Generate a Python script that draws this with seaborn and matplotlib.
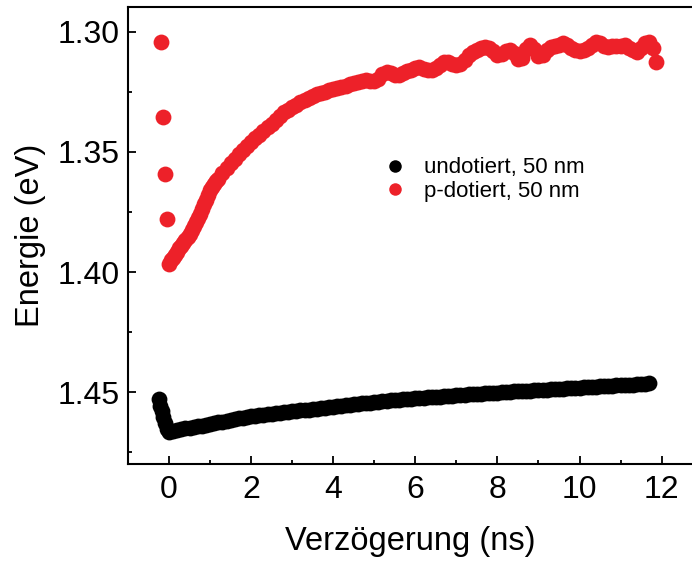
import matplotlib
matplotlib.use("Agg")
import matplotlib.pyplot as plt
from matplotlib.ticker import MultipleLocator, FormatStrFormatter
import seaborn as sns
import pandas as pd

# Delay grid (ns) shared by both series after time zero
delay_grid = [
    0.0, 0.1, 0.2, 0.3, 0.4, 0.5, 0.6, 0.7, 0.8, 0.9,
    1.0, 1.1, 1.2, 1.3, 1.4, 1.5, 1.6, 1.7, 1.8, 1.9,
    2.0, 2.1, 2.2, 2.3, 2.4, 2.5, 2.6, 2.7, 2.8, 2.9,
    3.0, 3.1, 3.2, 3.3, 3.4, 3.5, 3.6, 3.7, 3.8, 3.9,
    4.0, 4.1, 4.2, 4.3, 4.4, 4.5, 4.6, 4.7, 4.8, 4.9,
    5.0, 5.1, 5.2, 5.3, 5.4, 5.5, 5.6, 5.7, 5.8, 5.9,
    6.0, 6.1, 6.2, 6.3, 6.4, 6.5, 6.6, 6.7, 6.8, 6.9,
    7.0, 7.1, 7.2, 7.3, 7.4, 7.5, 7.6, 7.7, 7.8, 7.9,
    8.0, 8.1, 8.2, 8.3, 8.4, 8.5, 8.6, 8.7, 8.8, 8.9,
    9.0, 9.1, 9.2, 9.3, 9.4, 9.5, 9.6, 9.7, 9.8, 9.9,
    10.0, 10.1, 10.2, 10.3, 10.4, 10.5, 10.6, 10.7, 10.8, 10.9,
    11.0, 11.1, 11.2, 11.3, 11.4, 11.5, 11.6, 11.7,
]

# undoped sample, 50 nm
undoped_pre_delay = [-0.24, -0.21, -0.18, -0.14, -0.10, -0.05]
undoped_pre_energy = [1.4529, 1.4556, 1.4580, 1.4605, 1.4629, 1.4652]
undoped_energy = [
    1.4665, 1.4661, 1.4657, 1.4653, 1.4650, 1.4647, 1.4644, 1.4641, 1.4639, 1.4636,
    1.4632, 1.4629, 1.4626, 1.4622, 1.4619, 1.4616, 1.4613, 1.4609, 1.4606, 1.4603,
    1.4600, 1.4598, 1.4596, 1.4594, 1.4592, 1.4590, 1.4588, 1.4586, 1.4584, 1.4582,
    1.4580, 1.4578, 1.4576, 1.4574, 1.4572, 1.4570, 1.4568, 1.4566, 1.4564, 1.4562,
    1.4561, 1.4559, 1.4557, 1.4555, 1.4553, 1.4551, 1.4549, 1.4547, 1.4545, 1.4543,
    1.4541, 1.4539, 1.4537, 1.4536, 1.4534, 1.4533, 1.4531, 1.4530, 1.4528, 1.4527,
    1.4525, 1.4524, 1.4523, 1.4521, 1.4520, 1.4519, 1.4518, 1.4516, 1.4515, 1.4514,
    1.4513, 1.4512, 1.4511, 1.4509, 1.4508, 1.4507, 1.4506, 1.4505, 1.4504, 1.4503,
    1.4502, 1.4500, 1.4499, 1.4498, 1.4497, 1.4496, 1.4495, 1.4494, 1.4493, 1.4492,
    1.4491, 1.4490, 1.4489, 1.4488, 1.4487, 1.4486, 1.4485, 1.4484, 1.4483, 1.4482,
    1.4481, 1.4480, 1.4479, 1.4478, 1.4477, 1.4476, 1.4475, 1.4474, 1.4473, 1.4472,
    1.4471, 1.4470, 1.4469, 1.4468, 1.4467, 1.4466, 1.4465, 1.4463,
]

# p-doped sample, 50 nm
pdoped_pre_delay = [-0.19, -0.15, -0.09, -0.04]
pdoped_pre_energy = [1.3044, 1.3355, 1.3593, 1.3780]
# finer sampling during the fast initial shift
pdoped_early_delay = [
    0.00, 0.05, 0.10, 0.15, 0.20, 0.25, 0.30, 0.35, 0.40, 0.45, 0.50, 0.55,
    0.60, 0.65, 0.70, 0.75, 0.80, 0.85, 0.90, 0.95, 1.00, 1.05, 1.10, 1.15,
]
pdoped_early_energy = [
    1.3965, 1.3952, 1.3940, 1.3928, 1.3915, 1.3902, 1.3890, 1.3879, 1.3868, 1.3856,
    1.3843, 1.3827, 1.3810, 1.3793, 1.3775, 1.3757, 1.3738, 1.3719, 1.3700, 1.3680,
    1.3660, 1.3647, 1.3635, 1.3623,
]
# from 1.2 ns on the p-doped series follows the shared delay grid
pdoped_energy = [
    1.3612, 1.3590, 1.3568, 1.3548, 1.3530, 1.3510, 1.3493, 1.3476,
    1.3460, 1.3444, 1.3428, 1.3413, 1.3398, 1.3383, 1.3368, 1.3352, 1.3336, 1.3324,
    1.3314, 1.3305, 1.3292, 1.3283, 1.3276, 1.3268, 1.3260, 1.3254, 1.3249, 1.3244,
    1.3239, 1.3235, 1.3230, 1.3225, 1.3219, 1.3214, 1.3210, 1.3206, 1.3201, 1.3204,
    1.3207, 1.3195, 1.3178, 1.3167, 1.3171, 1.3179, 1.3180, 1.3170, 1.3162, 1.3160,
    1.3150, 1.3148, 1.3155, 1.3158, 1.3159, 1.3150, 1.3138, 1.3127, 1.3126, 1.3134,
    1.3140, 1.3136, 1.3118, 1.3098, 1.3084, 1.3078, 1.3068, 1.3062, 1.3068, 1.3082,
    1.3095, 1.3092, 1.3082, 1.3076, 1.3090, 1.3113, 1.3108, 1.3072, 1.3055, 1.3070,
    1.3100, 1.3095, 1.3078, 1.3064, 1.3060, 1.3056, 1.3049, 1.3055, 1.3068, 1.3078,
    1.3082, 1.3075, 1.3066, 1.3055, 1.3044, 1.3046, 1.3058, 1.3062, 1.3060, 1.3058,
    1.3060, 1.3055, 1.3066, 1.3076, 1.3083, 1.3068, 1.3048, 1.3044,
]
pdoped_tail_delay = [11.8, 11.86]
pdoped_tail_energy = [1.3068, 1.3125]

series_labels = ["undotiert, 50 nm", "p-dotiert, 50 nm"]
series_colors = ["#000000", "#ED2129"]

x_ticks = [0, 2, 4, 6, 8, 10, 12]
y_ticks = [1.30, 1.35, 1.40, 1.45]

undoped = pd.DataFrame({
    "delay": undoped_pre_delay + delay_grid,
    "energy": undoped_pre_energy + undoped_energy,
})
pdoped = pd.DataFrame({
    "delay": pdoped_pre_delay + pdoped_early_delay + delay_grid[12:] + pdoped_tail_delay,
    "energy": pdoped_pre_energy + pdoped_early_energy + pdoped_energy + pdoped_tail_energy,
})

sns.set_style("ticks")
plt.rcParams["font.family"] = ["Liberation Sans", "DejaVu Sans"]
plt.rcParams["text.color"] = "black"
plt.rcParams["axes.labelcolor"] = "black"
plt.rcParams["xtick.color"] = "black"
plt.rcParams["ytick.color"] = "black"

fig = plt.figure(figsize=(6.92, 5.63), dpi=100)
ax = fig.add_axes([128 / 692, 1 - 464.3 / 563, (692 - 128) / 692, (464.3 - 6.7) / 563])

for df, lab, col in zip([undoped, pdoped], series_labels, series_colors):
    sns.scatterplot(data=df, x="delay", y="energy", color=col, s=130,
                    linewidth=0, label=lab, ax=ax, legend=False)

ax.set_xlim(-1.0, 12.74)
ax.set_ylim(1.48, 1.2896)

ax.set_xticks(x_ticks)
ax.set_yticks(y_ticks)
ax.xaxis.set_minor_locator(MultipleLocator(1))
ax.yaxis.set_minor_locator(MultipleLocator(0.025))
ax.yaxis.set_major_formatter(FormatStrFormatter("%.2f"))

ax.tick_params(which="major", direction="in", length=6, width=1.3,
               labelsize=23, colors="black")
ax.tick_params(which="minor", direction="in", length=3, width=1.3,
               colors="black")
ax.tick_params(axis="x", which="major", pad=8)
ax.tick_params(axis="y", which="major", pad=6)

for side in ["left", "bottom", "top"]:
    ax.spines[side].set_linewidth(1.5)
    ax.spines[side].set_color("black")
ax.spines["right"].set_visible(False)

ax.set_xlabel("Verzögerung (ns)", fontsize=23.5, labelpad=15)
ax.set_ylabel("Energie (eV)", fontsize=23.5, labelpad=8)

handles = [
    plt.Line2D([], [], linestyle="none", marker="o", markersize=9,
               markerfacecolor=c, markeredgewidth=0)
    for c in series_colors
]
ax.legend(handles, series_labels, loc="center left",
          bbox_to_anchor=(384 / 692, 1 - 179.5 / 563),
          bbox_transform=fig.transFigure, frameon=False, fontsize=16,
          handlelength=1.0, handletextpad=0.8, labelspacing=0.1,
          borderpad=0, borderaxespad=0)

fig.savefig("out.png", dpi=100)
